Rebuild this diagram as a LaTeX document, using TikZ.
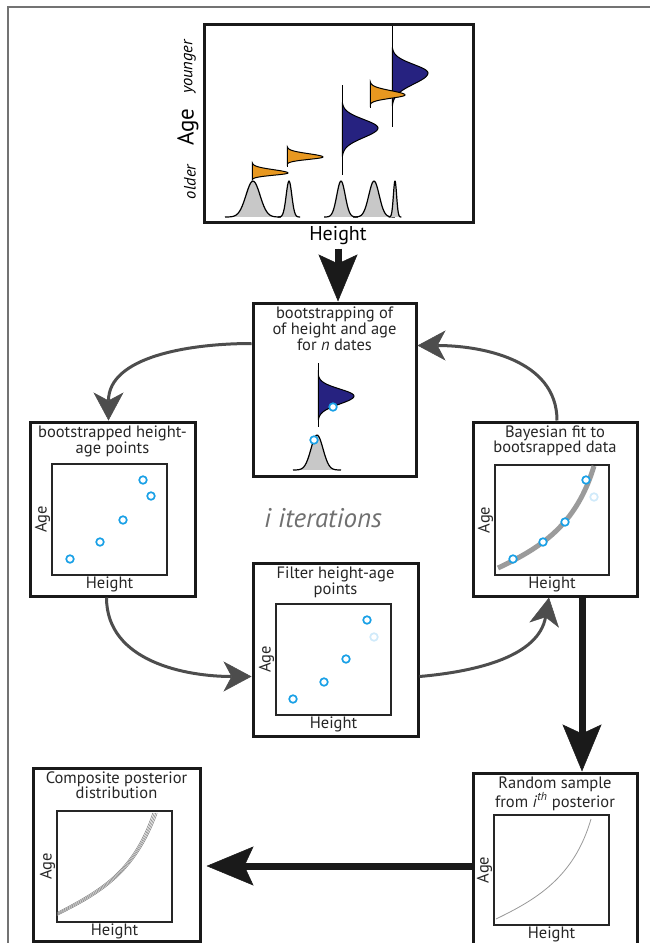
\documentclass[tikz,border=0pt]{standalone}
\usepackage{fontspec}
\setmainfont{PT Sans}
\usetikzlibrary{arrows.meta,positioning}

\definecolor{navyfill}{RGB}{38,34,128}
\definecolor{orangefill}{RGB}{232,152,32}
\definecolor{peakgray}{RGB}{200,200,200}
\definecolor{dotblue}{RGB}{25,160,230}
\definecolor{dotpale}{RGB}{208,234,250}
\definecolor{arcgray}{RGB}{77,77,77}
\definecolor{arrowblack}{RGB}{26,26,26}
\definecolor{framegray}{RGB}{115,115,115}
\definecolor{itergray}{RGB}{112,112,112}
\definecolor{fitgray}{RGB}{155,155,155}

% bell on a baseline: centre x, base y, sigma, height
\newcommand{\peakdist}[4]{%
  \filldraw[fill=peakgray, draw=black, line width=1.2pt]
    plot[domain=-4*#3:4*#3, samples=40] ({#1+\x},{#2-#4*exp(-(\x)^2/(2*#3*#3))});
}
% bell lying on its side: x0, centre y, length, sigma above, sigma below, fill, line top, line bottom
\newcommand{\sidedist}[8]{%
  \filldraw[fill=#6, draw=black, line width=1pt]
    plot[domain=-3*#4:0, samples=20] ({#1+#3*exp(-(\x)^2/(2*#4*#4))},{#2+\x})
    -- plot[domain=0:3*#5, samples=20] ({#1+#3*exp(-(\x)^2/(2*#5*#5))},{#2+\x}) -- cycle;
  \draw[line width=1pt] (#1,#7) -- (#1,#8);
}

\begin{document}
\begin{tikzpicture}[x=1pt, y=-1pt,
box/.style = {draw=black!90, line width=3pt, minimum width=165pt, minimum height=174pt, inner sep=0pt},
plotframe/.style = {draw=black!85, line width=1.4pt, minimum width=115pt, minimum height=111pt, inner sep=0pt},
titletext/.style = {font=\fontsize{16.5}{15}\selectfont, align=center, inner sep=1pt, text=black!85},
axlab/.style = {font=\fontsize{16.5}{16}\selectfont, inner sep=1pt, text=black!85},
bdot/.style = {draw=dotblue, line width=1.7pt, fill=white},
fadedot/.style = {draw=dotpale, line width=1.7pt, fill=white},
grayarc/.style = {draw=arcgray, line width=3pt, -{Stealth[length=28pt, width=30pt, inset=8pt, line width=0.5pt]}},
bigarrow/.style = {draw=arrowblack, fill=arrowblack, line width=7pt, -{Stealth[length=47pt, width=39pt, inset=9pt, line width=0.5pt]}},
]
\useasboundingbox (0,0) rectangle (650,943);

% Draw frame
\draw[framegray, line width=2pt] (8,943) -- (8,6.5) -- (650,6.5);

% Draw height-age distributions
\node[box, minimum width=269pt, minimum height=198pt] (prior) at (338.5,123) {};
\node[font=\fontsize{16.5}{16}\selectfont\itshape, rotate=90] (young) at (190,67) {younger};
\node[font=\fontsize{23}{23}\selectfont, rotate=90] (agebig) at (188,127) {Age};
\node[font=\fontsize{16.5}{16}\selectfont\itshape, rotate=90] (old) at (190,182) {older};
\node[font=\fontsize{20}{20}\selectfont] (priorh) at (338,236) {Height};

\peakdist{253}{217}{7}{36}
\peakdist{289}{217}{2.8}{36}
\peakdist{341}{217}{4.2}{36}
\peakdist{374}{217}{5.2}{36}
\peakdist{395}{217}{1.6}{36}
\sidedist{342}{128}{36}{8.5}{9.5}{navyfill}{85}{175}
\sidedist{392}{73}{36}{8.5}{11}{navyfill}{26}{127}
\sidedist{252}{173}{36}{3.3}{2.2}{orangefill}{163}{180}
\sidedist{287}{157}{36}{3.3}{2.4}{orangefill}{148}{167}
\sidedist{370}{95}{35}{4.3}{3.2}{orangefill}{82}{108}

% Draw bootstrapping step
\node[box, minimum width=163pt, minimum height=173pt] (boot) at (334.5,389.5) {};
\node[titletext, anchor=north] (boot-title) at ([yshift=-4pt]boot.north) {bootstrapping of\\of height and age\\for \textit{n} dates};
\sidedist{318}{396}{36}{7}{8}{navyfill}{363}{427}
\peakdist{317}{470}{6}{35}
\draw[bdot] (333,407) circle[radius=3.8pt];
\draw[bdot] (314,440) circle[radius=3.8pt];

% Draw bootstrapped points
\node[box] (bootpts) at (112.5,509) {};
\node[titletext, anchor=north] (bp-title) at ([yshift=-4pt]bootpts.north) {bootstrapped height-\\age points};
\node[plotframe] (bp-plot) at (109.5,519.5) {};
\node[axlab, below=0pt of bp-plot] (bp-h) {Height};
\node[axlab, rotate=90, anchor=south] (bp-a) at (bp-plot.west) {Age};
\foreach \p in {(70,559),(100,542),(123,520),(151,496),(143,480)}
  \draw[bdot] \p circle[radius=3.8pt];

% Draw Bayesian fit
\node[box, minimum width=164pt] (bayes) at (555,509) {};
\node[titletext, anchor=north] (by-title) at ([yshift=-4pt]bayes.north) {Bayesian fit to\\bootsrapped data};
\node[plotframe, minimum width=114pt, minimum height=110pt] (by-plot) at (552,520) {};
\node[axlab, below=0pt of by-plot] (by-h) {Height};
\node[axlab, rotate=90, anchor=south] (by-a) at (by-plot.west) {Age};
\draw[fitgray, line width=5pt] (498,568) .. controls (540,548) and (576,526) .. (594,466);
\draw[fadedot] (594,497) circle[radius=3.8pt];
\foreach \p in {(513,559),(543,542),(565,522),(586,480)}
  \draw[bdot] \p circle[radius=3.8pt];

% Draw filter step
\node[box, minimum height=173pt] (filter) at (335.5,649.5) {};
\node[titletext, anchor=north] (fl-title) at ([yshift=-4pt]filter.north) {Filter height-age\\points};
\node[plotframe] (fl-plot) at (333.5,659.5) {};
\node[axlab, below=0pt of fl-plot] (fl-h) {Height};
\node[axlab, rotate=90, anchor=south] (fl-a) at (fl-plot.west) {Age};
\draw[fadedot] (374,637) circle[radius=3.8pt];
\foreach \p in {(293,699),(324,682),(346,659),(367,620)}
  \draw[bdot] \p circle[radius=3.8pt];

% Draw random sample
\node[box, minimum width=164pt, minimum height=180pt] (sample) at (555,863) {};
\node[titletext, anchor=north] (rs-title) at ([yshift=-4pt]sample.north) {Random sample\\from \textit{i}\textsuperscript{\textit{th}} posterior};
\node[plotframe, minimum height=110pt] (rs-plot) at (551.5,870) {};
\node[axlab, below=0pt of rs-plot] (rs-h) {Height};
\node[axlab, rotate=90, anchor=south] (rs-a) at (rs-plot.west) {Age};
\draw[black!40, line width=0.8pt] (496,919) .. controls (535,900) and (574,878) .. (591,819);

% Draw composite posterior
\node[box, minimum width=167pt, minimum height=173pt] (compo) at (116.5,854.5) {};
\node[titletext, anchor=north] (cp-title) at ([yshift=-4pt]compo.north) {Composite posterior\\distribution};
\node[plotframe] (cp-plot) at (114.5,866.5) {};
\node[axlab, below=0pt of cp-plot] (cp-h) {Height};
\node[axlab, rotate=90, anchor=south] (cp-a) at (cp-plot.west) {Age};
\foreach \d in {-1.5,-0.5,0.5,1.5}
  \draw[black!50, line width=0.5pt] (57,{914+\d}) .. controls ({100+\d},{892+\d}) and ({134+\d},873) .. ({155+1.5*\d},813);

\node[font=\fontsize{27}{27}\selectfont\itshape, text=itergray] (iter) at (323,518) {i iterations};

% Draw arrows
\draw[bigarrow] (priorh.south) -- (priorh.south |- boot.north);
\draw[grayarc] ([yshift=46pt]boot.west) to[out=180, in=90] ([xshift=-4pt]bootpts.north);
\draw[grayarc] ([xshift=2pt]bayes.north) to[out=90, in=0] ([yshift=44pt]boot.east);
\draw[grayarc] ([xshift=-6pt]bootpts.south) to[out=-90, in=180] ([yshift=-27pt]filter.west);
\draw[grayarc] ([yshift=-27pt]filter.east) to[out=5, in=-100] ([xshift=-6pt]bayes.south);
\draw[bigarrow] ([xshift=27pt]bayes.south) -- ([xshift=27pt]sample.north);
\coordinate (foot) at ([yshift=-3pt]sample.west);
\draw[bigarrow, shorten >=5pt] (foot) -- (foot -| compo.east);

\end{tikzpicture}
\end{document}
